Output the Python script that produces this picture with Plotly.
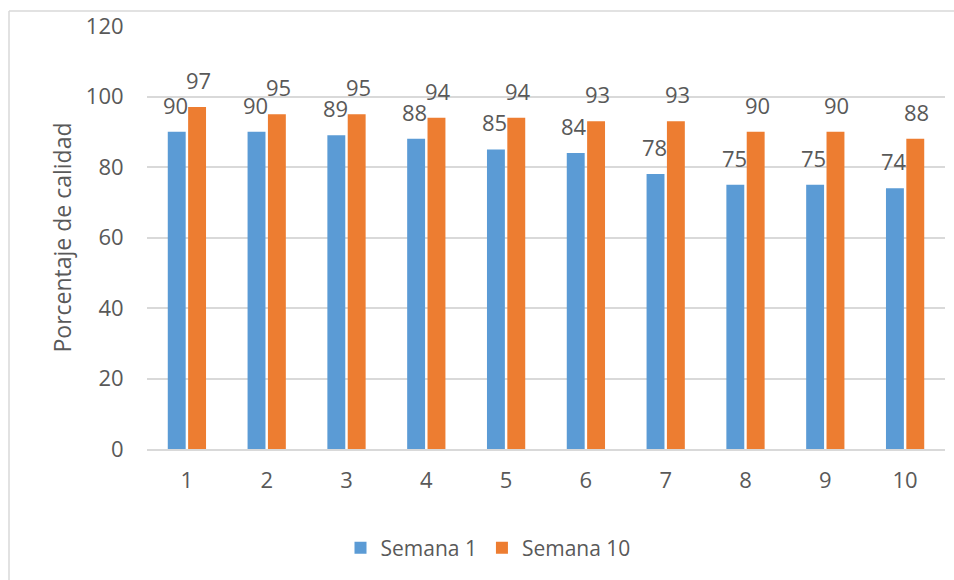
import plotly.graph_objects as go

# Weekly quality percentage by item
categorias = ["1", "2", "3", "4", "5", "6", "7", "8", "9", "10"]
semana_1 = [90, 90, 89, 88, 85, 84, 78, 75, 75, 74]
semana_10 = [97, 95, 95, 94, 94, 93, 93, 90, 90, 88]
y_ticks = [0, 20, 40, 60, 80, 100, 120]

AZUL = "#5B9BD5"
NARANJA = "#ED7D31"
TEXTO = "#595959"
GRIS = "#D9D9D9"
FUENTE = "Open Sans, Arial, sans-serif"

W, H = 954, 580
ML, MR, MT, MB = 147, 9, 26, 131
PW, PH = W - ML - MR, H - MT - MB

fig = go.Figure()
fig.add_trace(go.Bar(x=categorias, y=semana_1, name="Semana 1",
                     marker=dict(color=AZUL, line=dict(width=0))))
fig.add_trace(go.Bar(x=categorias, y=semana_10, name="Semana 10",
                     marker=dict(color=NARANJA, line=dict(width=0))))

# value labels above each bar (category axis positions are indices)
anots = []
for serie, shift in ((semana_1, -11.5), (semana_10, 11.5)):
    for i, v in enumerate(serie):
        anots.append(dict(x=i, y=v, xref="x", yref="y", text=str(v),
                          showarrow=False, xshift=shift, yshift=10,
                          yanchor="bottom", xanchor="center",
                          font=dict(family=FUENTE, size=22, color=TEXTO)))

# chart frame (top and left edges)
def px_x(p):
    return (p - ML) / PW

def px_y(p):
    return (H - MB - p) / PH

shapes = [
    dict(type="line", xref="paper", yref="paper",
         x0=px_x(9), x1=px_x(960), y0=px_y(11), y1=px_y(11),
         line=dict(color=GRIS, width=1.5)),
    dict(type="line", xref="paper", yref="paper",
         x0=px_x(9), x1=px_x(9), y0=px_y(11), y1=px_y(590),
         line=dict(color=GRIS, width=1.5)),
]

fig.update_layout(
    width=W, height=H,
    margin=dict(l=ML, r=MR, t=MT, b=MB, pad=0),
    paper_bgcolor="white", plot_bgcolor="white",
    barmode="group", bargap=0.49, bargroupgap=0.12,
    font=dict(family=FUENTE, size=22, color=TEXTO),
    showlegend=True,
    legend=dict(orientation="h", x=px_x(488), y=px_y(548),
                xanchor="center", yanchor="middle",
                font=dict(family=FUENTE, size=21, color=TEXTO),
                itemwidth=30, traceorder="normal"),
    annotations=anots,
    shapes=shapes,
    xaxis=dict(type="category", showgrid=False, showline=True,
               linecolor=GRIS, linewidth=2, ticks="outside",
               ticklen=11, tickcolor="rgba(0,0,0,0)",
               tickfont=dict(family=FUENTE, size=22, color=TEXTO)),
    yaxis=dict(range=[0, 120], tickvals=y_ticks, showgrid=True,
               gridcolor=GRIS, gridwidth=1.5, zeroline=False,
               showline=False, ticks="outside", ticklen=18,
               tickcolor="rgba(0,0,0,0)",
               tickfont=dict(family=FUENTE, size=22, color=TEXTO),
               title=dict(text="Porcentaje de calidad", standoff=7,
                          font=dict(family=FUENTE, size=23, color=TEXTO))),
)

fig.write_html("out.html")
